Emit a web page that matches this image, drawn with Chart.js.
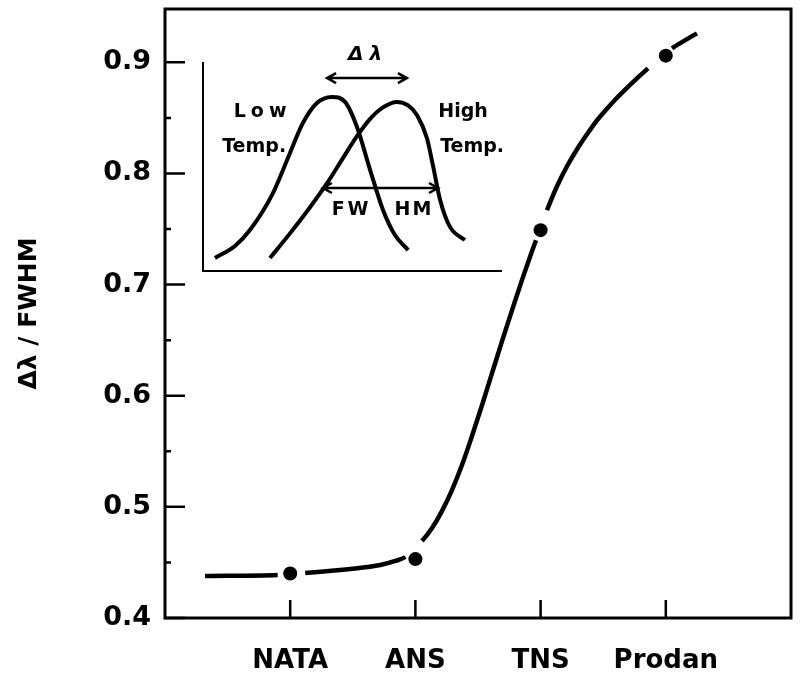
<!DOCTYPE html>
<html>
<head>
<meta charset="utf-8">
<script src="https://cdn.jsdelivr.net/npm/chart.js@4"></script>
<style>
html, body { margin: 0; padding: 0; background: #fff; }
#wrap { position: relative; width: 800px; height: 678px; }
#main { position: absolute; left: 0; top: 0; }
#inset { position: absolute; left: 190px; top: 36px; }
</style>
</head>
<body>
<div id="wrap">
  <canvas id="main" width="800" height="678"></canvas>
  <canvas id="inset" width="330" height="250"></canvas>
</div>
<script>
// measured ratio for each probe
var categories = ['NATA', 'ANS', 'TNS', 'Prodan'];
var ratioValues = [0.440, 0.453, 0.749, 0.906];
var yTickValues = [0.4, 0.5, 0.6, 0.7, 0.8, 0.9];

// hand drawn guide curve (x in category units, 1 = NATA)
var fitX = [0.32, 0.90, 1.12, 1.48, 1.72, 1.84, 1.92,
            2.053, 2.133, 2.212, 2.292, 2.372, 2.452, 2.532, 2.612, 2.692, 2.772, 2.851, 2.931, 2.963,
            3.051, 3.131, 3.211, 3.291, 3.371, 3.450, 3.530, 3.610, 3.690, 3.770, 3.858,
            4.050, 4.153, 4.249];
var fitY = [0.4378, 0.4387, 0.4405, 0.4441, 0.4477, 0.4513, 0.4549,
            0.4692, 0.4809, 0.4962, 0.5151, 0.5376, 0.5637, 0.5915, 0.6203, 0.6491, 0.6770, 0.7040, 0.7300, 0.7399,
            0.7669, 0.7885, 0.8065, 0.8218, 0.8353, 0.8478, 0.8582, 0.8681, 0.8771, 0.8856, 0.8946,
            0.9126, 0.9198, 0.9261];

// inset: schematic emission spectra (arbitrary units 0-100)
var lowTempX = [4.0, 10.7, 15.7, 23.4, 29.1, 33.4, 38.1, 43.1, 47.5, 51.5, 55.9, 60.2, 64.2, 68.6];
var lowTempY = [6.2, 12.0, 19.6, 37.3, 56.5, 70.8, 80.4, 83.3, 80.9, 68.9, 48.3, 29.2, 17.2, 10.0];
var highTempX = [22.4, 29.1, 35.8, 41.5, 46.8, 51.5, 55.9, 60.2, 64.9, 68.6, 71.6, 74.9, 76.9, 79.3, 82.6, 87.6];
var highTempY = [6.2, 18.0, 30.5, 42.0, 54.0, 64.5, 72.8, 78.3, 80.9, 79.2, 74.5, 63.5, 50.5, 34.0, 21.1, 14.8];

var FONT = "'DejaVu Sans', sans-serif";
var dotX = categories.map(function (c, i) { return i + 1; });

function pts(xs, ys) {
    return xs.map(function (x, i) { return { x: x, y: ys[i] }; });
}

// frame and inward tick marks for the main plot
var framePlugin = {
    id: 'frame',
    afterDraw: function (chart) {
        var ctx = chart.ctx;
        var a = chart.chartArea;
        var xs = chart.scales.x, ys = chart.scales.y;
        ctx.save();
        ctx.strokeStyle = '#000';
        ctx.lineWidth = 3;
        ctx.strokeRect(a.left, a.top, a.right - a.left, a.bottom - a.top);
        ctx.lineWidth = 2.5;
        ctx.beginPath();
        ys.ticks.forEach(function (t, i) {
            var py = ys.getPixelForValue(t.value);
            ctx.moveTo(a.left, py);
            ctx.lineTo(a.left + 20, py);
            if (i < ys.ticks.length - 1) {
                var pm = ys.getPixelForValue((t.value + ys.ticks[i + 1].value) / 2);
                ctx.moveTo(a.left, pm);
                ctx.lineTo(a.left + 6, pm);
            }
        });
        xs.ticks.forEach(function (t) {
            var px = xs.getPixelForValue(t.value);
            ctx.moveTo(px, a.bottom);
            ctx.lineTo(px, a.bottom - 18);
        });
        ctx.stroke();
        ctx.restore();
    }
};

new Chart(document.getElementById('main').getContext('2d'), {
    type: 'line',
    data: {
        datasets: [{
            data: pts(fitX, fitY),
            borderColor: '#000',
            borderWidth: 4.5,
            pointRadius: 0,
            cubicInterpolationMode: 'monotone',
            segment: {
                borderColor: function (ctx) {
                    var hide = dotX.some(function (x) { return ctx.p0.parsed.x < x && ctx.p1.parsed.x > x; });
                    return hide ? 'rgba(0,0,0,0)' : '#000';
                }
            }
        }, {
            data: pts(dotX, ratioValues),
            showLine: false,
            pointRadius: 7,
            pointBackgroundColor: '#000',
            pointBorderColor: '#000',
            pointBorderWidth: 0
        }]
    },
    options: {
        responsive: false,
        animation: false,
        layout: { padding: { left: 0, right: 9, top: 9, bottom: 0 } },
        plugins: { legend: { display: false }, tooltip: { enabled: false } },
        scales: {
            x: {
                type: 'linear',
                min: 0,
                max: 5,
                afterBuildTicks: function (s) { s.ticks = dotX.map(function (v) { return { value: v }; }); },
                afterFit: function (s) { s.height = 60; s.paddingLeft = 0; s.paddingRight = 0; },
                grid: { display: false, drawTicks: false },
                border: { display: false },
                ticks: {
                    color: '#000',
                    padding: 28,
                    font: { family: FONT, size: 26, weight: 'bold' },
                    callback: function (v) { return categories[v - 1]; }
                }
            },
            y: {
                min: 0.4,
                max: 0.948,
                afterBuildTicks: function (s) { s.ticks = yTickValues.map(function (v) { return { value: v }; }); },
                afterFit: function (s) { s.width = 165; s.paddingTop = 0; s.paddingBottom = 0; },
                grid: { display: false, drawTicks: false },
                border: { display: false },
                ticks: {
                    color: '#000',
                    padding: 14,
                    font: { family: FONT, size: 27, weight: 'bold' },
                    callback: function (v) { return v.toFixed(1); }
                },
                title: {
                    display: true,
                    text: 'Δλ / FWHM',
                    color: '#000',
                    padding: { top: 14, bottom: 0 },
                    font: { family: FONT, size: 25, weight: 'bold' }
                }
            }
        }
    },
    plugins: [framePlugin]
});

// inset axes, labels and arrows
function arrow(ctx, x1, x2, y) {
    ctx.beginPath();
    ctx.moveTo(x1, y);
    ctx.lineTo(x2, y);
    ctx.moveTo(x1 + 9, y - 5);
    ctx.lineTo(x1, y);
    ctx.lineTo(x1 + 9, y + 5);
    ctx.moveTo(x2 - 9, y - 5);
    ctx.lineTo(x2, y);
    ctx.lineTo(x2 - 9, y + 5);
    ctx.stroke();
}

var insetPlugin = {
    id: 'insetDeco',
    afterDraw: function (chart) {
        var ctx = chart.ctx;
        var a = chart.chartArea;
        var sx = chart.scales.x, sy = chart.scales.y;
        function X(v) { return sx.getPixelForValue(v); }
        function Y(v) { return sy.getPixelForValue(v); }
        function label(txt, x, y, spacing) {
            ctx.letterSpacing = spacing + 'px';
            ctx.fillText(txt, X(x) + spacing / 2, Y(y));
        }
        ctx.save();
        ctx.strokeStyle = '#000';
        ctx.fillStyle = '#000';
        ctx.lineWidth = 2;
        ctx.beginPath();
        ctx.moveTo(a.left, a.top);
        ctx.lineTo(a.left, a.bottom);
        ctx.lineTo(a.right, a.bottom);
        ctx.stroke();

        ctx.lineWidth = 2.5;
        arrow(ctx, X(41.5), X(68.2), Y(92.3));
        arrow(ctx, X(40.1), X(78.6), Y(39.7));

        ctx.textAlign = 'center';
        ctx.textBaseline = 'middle';
        ctx.font = 'bold italic 20px ' + FONT;
        label('Δλ', 54.2, 103.3, 6);
        ctx.font = 'bold 19px ' + FONT;
        label('Low', 19.1, 76.1, 5);
        label('Temp.', 17.1, 59.3, 0);
        label('High', 87.0, 76.1, 0);
        label('Temp.', 90.0, 59.3, 0);
        label('FW', 49.2, 29.2, 3);
        label('HM', 70.2, 29.2, 2);
        ctx.restore();
    }
};

new Chart(document.getElementById('inset').getContext('2d'), {
    type: 'line',
    data: {
        datasets: [{
            label: 'Low Temp.',
            data: pts(lowTempX, lowTempY),
            borderColor: '#000',
            borderWidth: 4,
            pointRadius: 0,
            cubicInterpolationMode: 'monotone'
        }, {
            label: 'High Temp.',
            data: pts(highTempX, highTempY),
            borderColor: '#000',
            borderWidth: 4,
            pointRadius: 0,
            cubicInterpolationMode: 'monotone'
        }]
    },
    options: {
        responsive: false,
        animation: false,
        layout: { padding: { left: 13, right: 18, top: 26, bottom: 15 } },
        plugins: { legend: { display: false }, tooltip: { enabled: false } },
        scales: {
            x: { type: 'linear', min: 0, max: 100, display: false },
            y: { min: 0, max: 100, display: false }
        }
    },
    plugins: [insetPlugin]
});
</script>
</body>
</html>
